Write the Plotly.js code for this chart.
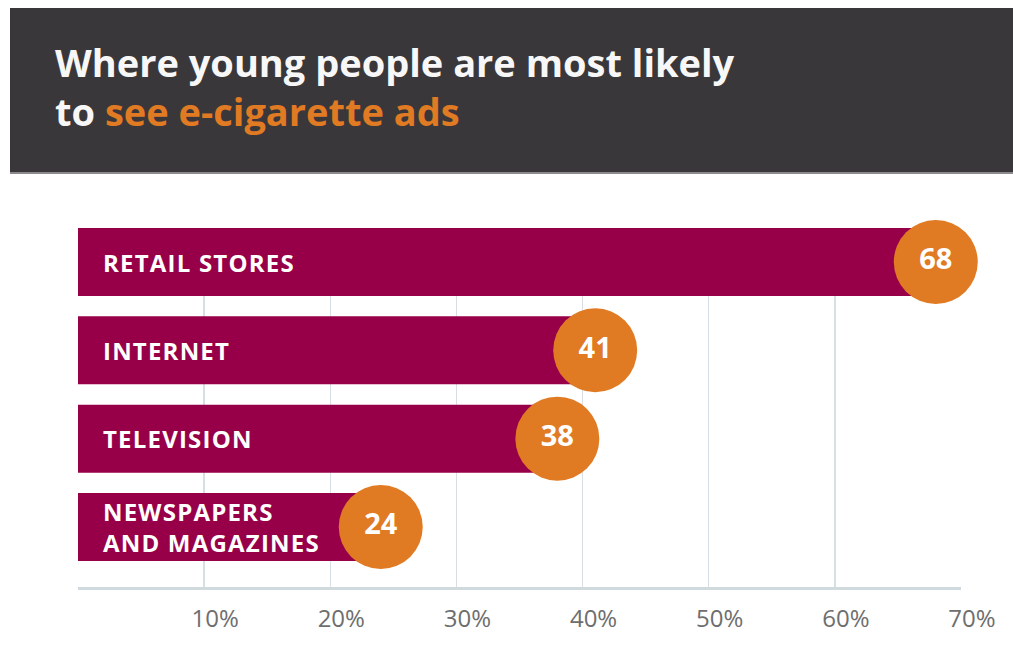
<!DOCTYPE html>
<html>
<head>
<meta charset="utf-8">
<script src="https://cdn.plot.ly/plotly-3.0.1.min.js"></script>
<style>
  html, body { margin: 0; padding: 0; background: #ffffff; }
  #chart { width: 1013px; height: 662px; }
  .annotation[data-index="1"] text,
  .annotation[data-index="2"] text,
  .annotation[data-index="3"] text,
  .annotation[data-index="4"] text { letter-spacing: 1.2px; }
</style>
</head>
<body>
<div id="chart"></div>
<script>
// ---- data ----
var categories = ["RETAIL STORES", "INTERNET", "TELEVISION", "NEWSPAPERS AND MAGAZINES"];
var labelTexts = ["RETAIL STORES", "INTERNET", "TELEVISION", "NEWSPAPERS<br>AND MAGAZINES"];
var values = [68, 41, 38, 24];
var tickValues = [10, 20, 30, 40, 50, 60, 70];
var tickLabels = ["10%", "20%", "30%", "40%", "50%", "60%", "70%"];
var titleLine1 = "Where young people are most likely";
var titleLine2a = "to ";
var titleLine2b = "see e-cigarette ads";

// ---- style ----
var W = 1013, H = 662;
var M = { l: 78, r: 52, t: 228, b: 75 };
var maroon = "#970048";
var orange = "#e07a23";
var dark = "#3a373a";
var gridCol = "#d6dfe3";
var fontBold = "Open Sans, Roboto, sans-serif";

var plotW = W - M.l - M.r, plotH = H - M.t - M.b;
function pxX(p) { return (p - M.l) / plotW; }
function pxY(p) { return (H - M.b - p) / plotH; }

var bars = {
  type: "bar",
  orientation: "h",
  x: values,
  y: categories,
  marker: { color: maroon },
  width: 0.77,
  hoverinfo: "skip"
};

var circles = {
  type: "scatter",
  mode: "markers+text",
  x: values,
  y: categories,
  text: values.map(String),
  textposition: "middle center",
  textfont: { family: fontBold, size: 29, color: "#ffffff", weight: 700 },
  marker: { size: 84, color: orange, line: { width: 0 } },
  cliponaxis: false,
  hoverinfo: "skip"
};

var annotations = [
  {
    xref: "paper", yref: "paper", x: pxX(53), y: pxY(87),
    xanchor: "left", yanchor: "middle", align: "left", showarrow: false,
    text: titleLine1 + "<br>" + titleLine2a + "<span style='color:" + orange + "'>" + titleLine2b + "</span>",
    font: { family: fontBold, size: 38, color: "#f7f7f7", weight: 700 }
  }
].concat(categories.map(function (c, i) {
  return {
    x: 0, y: c, xref: "x", yref: "y",
    text: labelTexts[i],
    showarrow: false,
    xanchor: "left", yanchor: "middle", align: "left",
    xshift: 23,
    font: { family: fontBold, size: 24, color: "#ffffff", weight: 700 }
  };
}));

var layout = {
  width: W, height: H,
  margin: M,
  paper_bgcolor: "#ffffff",
  plot_bgcolor: "#ffffff",
  showlegend: false,
  xaxis: {
    range: [0, 70],
    tickvals: tickValues,
    ticktext: tickLabels,
    showgrid: true,
    gridcolor: gridCol,
    gridwidth: 1.5,
    zeroline: false,
    showline: true,
    linecolor: "#cfd9de",
    linewidth: 2.5,
    ticks: "",
    ticklabelshift: 11,
    ticklabelstandoff: 9,
    tickfont: { family: "Open Sans, sans-serif", size: 24, color: "#6e6e6e" },
    fixedrange: true
  },
  yaxis: {
    type: "category",
    categoryorder: "array",
    categoryarray: categories,
    range: [3.68, -0.385],
    showticklabels: false,
    showgrid: false,
    zeroline: false,
    showline: false,
    ticks: "",
    fixedrange: true
  },
  shapes: [
    {
      type: "rect", xref: "paper", yref: "paper", layer: "below",
      x0: pxX(10), x1: pxX(1013), y0: pxY(174), y1: pxY(8),
      fillcolor: "#8c8a8c", line: { width: 0 }
    },
    {
      type: "rect", xref: "paper", yref: "paper", layer: "below",
      x0: pxX(10), x1: pxX(1013), y0: pxY(172), y1: pxY(8),
      fillcolor: dark, line: { width: 0 }
    }
  ],
  annotations: annotations,
  bargap: 0.23
};

Plotly.newPlot("chart", [bars, circles], layout, { displayModeBar: false, staticPlot: true });
</script>
</body>
</html>
